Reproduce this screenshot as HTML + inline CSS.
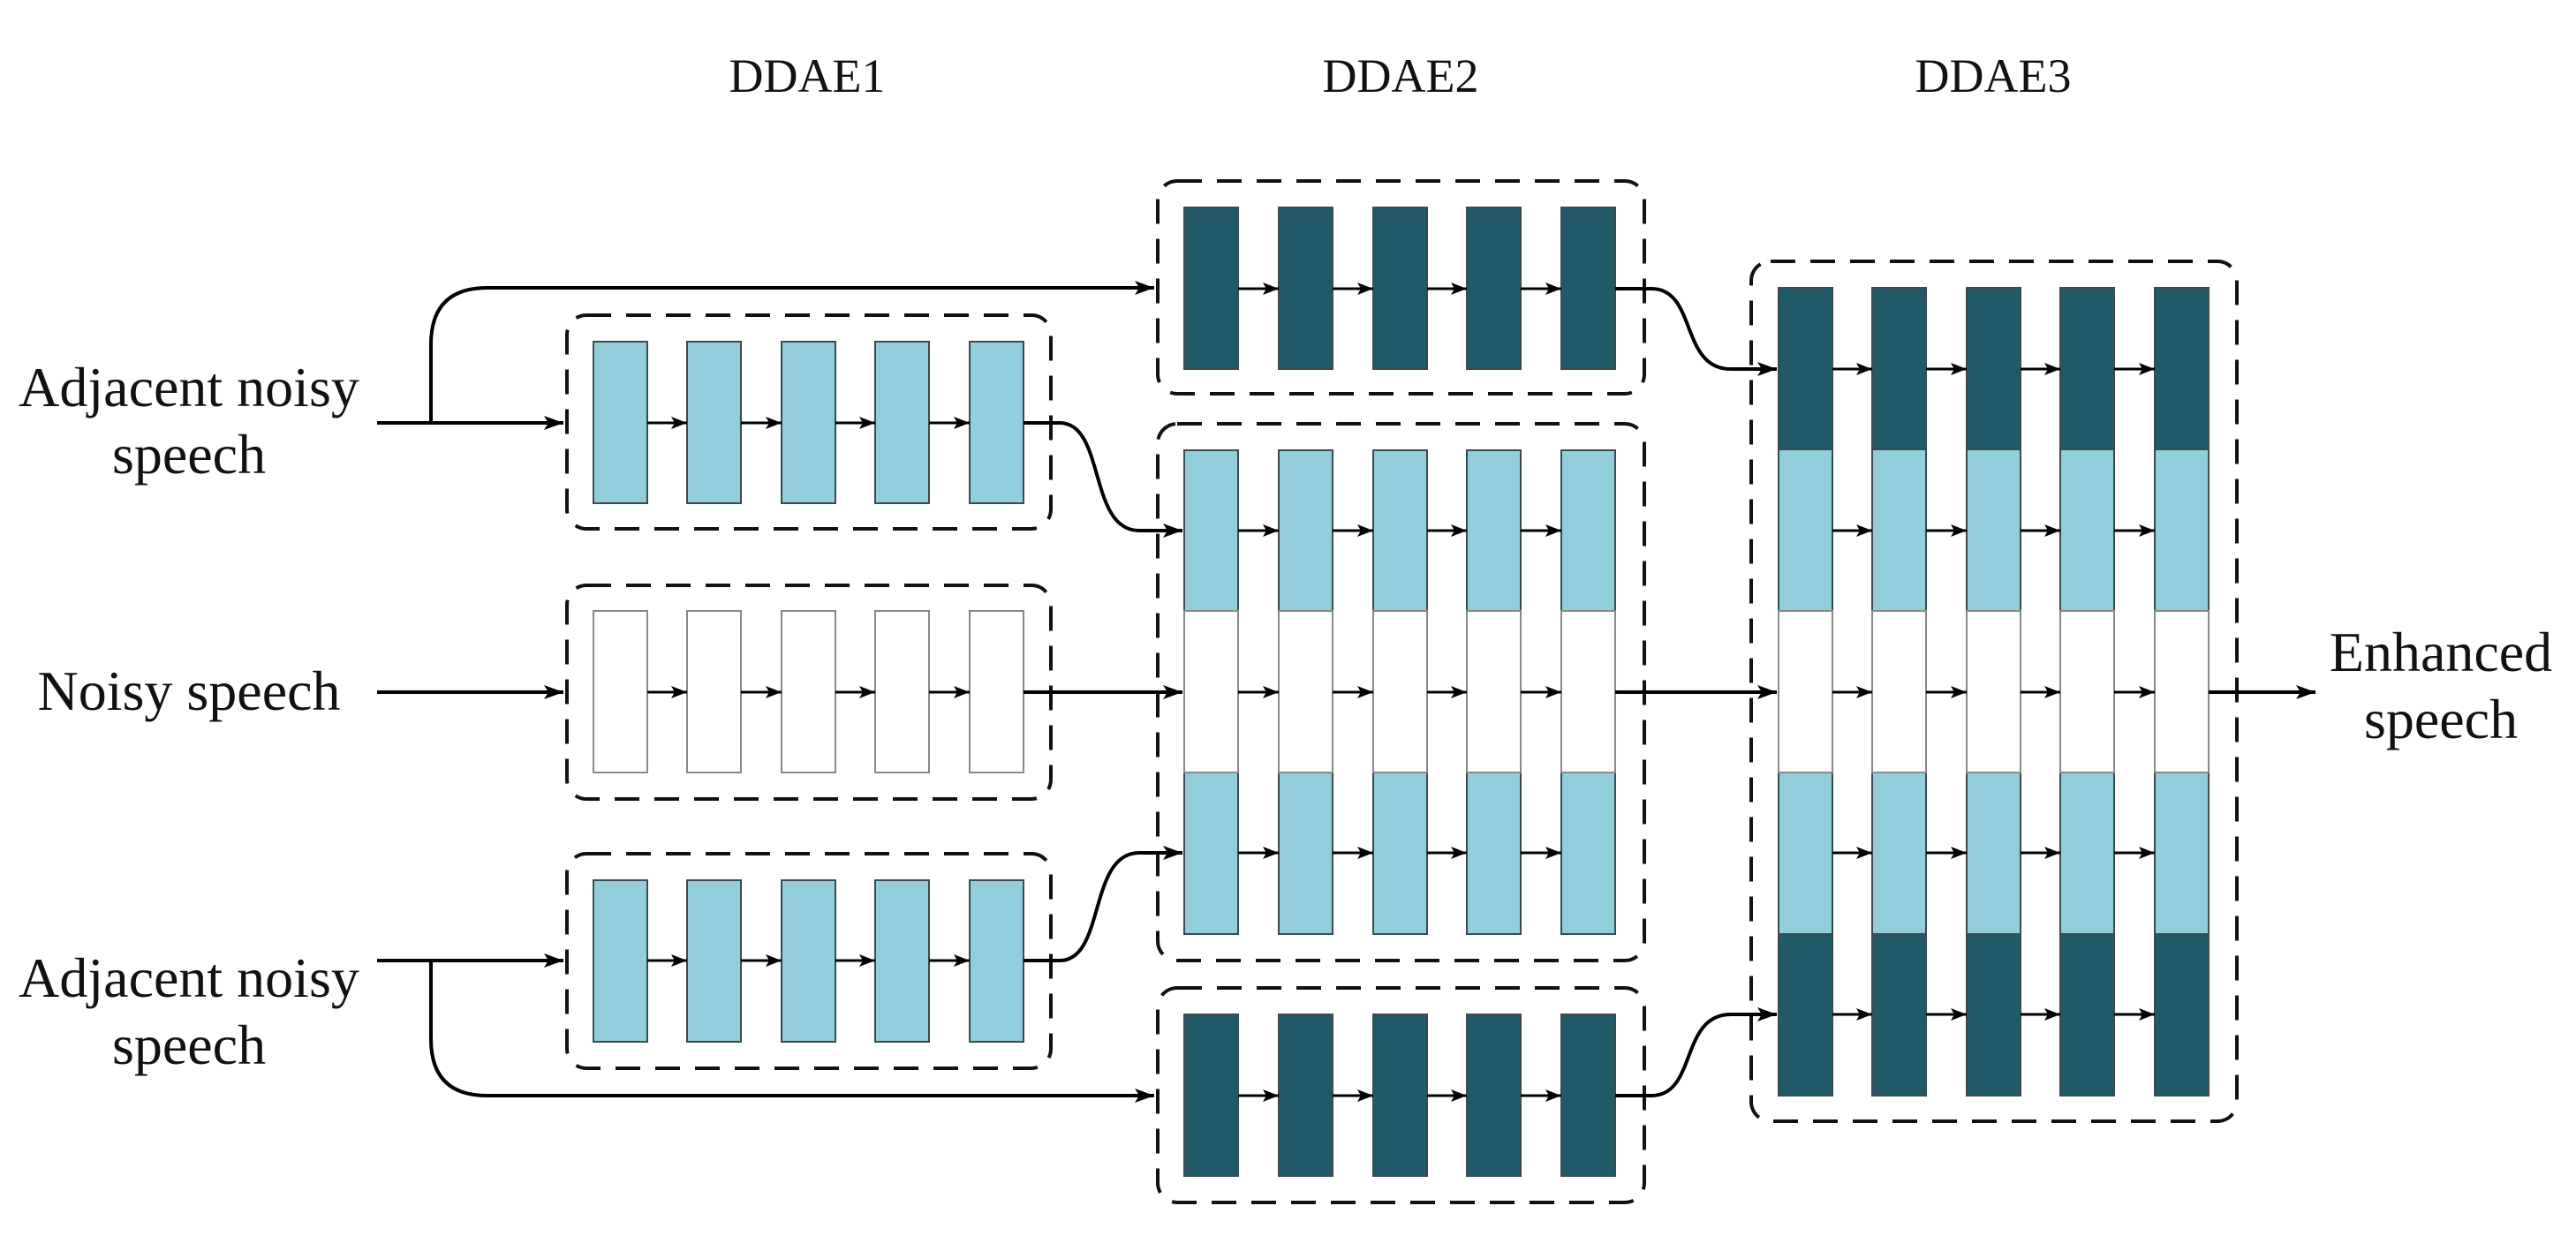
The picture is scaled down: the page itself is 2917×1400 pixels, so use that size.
<!DOCTYPE html>
<html><head><meta charset="utf-8"><style>
html,body{margin:0;padding:0;background:#fff;}
svg{display:block;}
text{font-family:"Liberation Serif",serif;fill:#111;}
</style></head><body>
<svg width="2917" height="1400" viewBox="0 0 2917 1400" xmlns="http://www.w3.org/2000/svg">
<defs>
<marker id="a" markerUnits="userSpaceOnUse" markerWidth="24" markerHeight="20" refX="22" refY="10" orient="auto"><path d="M0,2 L22,10 L0,18 L5,10 Z" fill="#000"/></marker>
<marker id="s" markerUnits="userSpaceOnUse" markerWidth="20" markerHeight="16" refX="18" refY="8" orient="auto"><path d="M0,1 L18,8 L0,15 L4,8 Z" fill="#000"/></marker>
</defs>

<!-- titles -->
<g font-size="54" text-anchor="middle">
<text x="914" y="104">DDAE1</text>
<text x="1586" y="104">DDAE2</text>
<text x="2257" y="104">DDAE3</text>
</g>

<!-- labels -->
<g font-size="64" text-anchor="middle">
<text x="214" y="460">Adjacent noisy</text>
<text x="214" y="536">speech</text>
<text x="214" y="804">Noisy speech</text>
<text x="214" y="1129">Adjacent noisy</text>
<text x="214" y="1205">speech</text>
<text x="2764" y="760">Enhanced</text>
<text x="2764" y="836">speech</text>
</g>

<!-- dashed boxes -->
<g fill="none" stroke="#111" stroke-width="4" stroke-dasharray="28 17">
<rect x="642" y="357" width="548" height="242" rx="22"/>
<rect x="642" y="663" width="548" height="242" rx="22"/>
<rect x="642" y="967" width="548" height="243" rx="22"/>
<rect x="1311" y="205" width="551" height="241" rx="22"/>
<rect x="1311" y="480" width="551" height="608" rx="22"/>
<rect x="1311" y="1119" width="551" height="243" rx="22"/>
<rect x="1983" y="296" width="550" height="974" rx="22"/>
</g>

<!-- rects -->
<g stroke="#3a4a50" stroke-width="2">
<g fill="#92CDDC">
<rect x="672" y="387" width="61" height="183"/><rect x="778" y="387" width="61" height="183"/><rect x="885" y="387" width="61" height="183"/><rect x="991" y="387" width="61" height="183"/><rect x="1098" y="387" width="61" height="183"/>
<rect x="672" y="997" width="61" height="183"/><rect x="778" y="997" width="61" height="183"/><rect x="885" y="997" width="61" height="183"/><rect x="991" y="997" width="61" height="183"/><rect x="1098" y="997" width="61" height="183"/>
</g>
<g fill="#fff" stroke="#888">
<rect x="672" y="692" width="61" height="183"/><rect x="778" y="692" width="61" height="183"/><rect x="885" y="692" width="61" height="183"/><rect x="991" y="692" width="61" height="183"/><rect x="1098" y="692" width="61" height="183"/>
</g>
<g fill="#215968">
<rect x="1341" y="235" width="61" height="183"/><rect x="1448" y="235" width="61" height="183"/><rect x="1555" y="235" width="61" height="183"/><rect x="1661" y="235" width="61" height="183"/><rect x="1768" y="235" width="61" height="183"/>
<rect x="1341" y="1149" width="61" height="183"/><rect x="1448" y="1149" width="61" height="183"/><rect x="1555" y="1149" width="61" height="183"/><rect x="1661" y="1149" width="61" height="183"/><rect x="1768" y="1149" width="61" height="183"/>
</g>
<g fill="#92CDDC">
<rect x="1341" y="510" width="61" height="182"/><rect x="1448" y="510" width="61" height="182"/><rect x="1555" y="510" width="61" height="182"/><rect x="1661" y="510" width="61" height="182"/><rect x="1768" y="510" width="61" height="182"/>
<rect x="1341" y="875" width="61" height="183"/><rect x="1448" y="875" width="61" height="183"/><rect x="1555" y="875" width="61" height="183"/><rect x="1661" y="875" width="61" height="183"/><rect x="1768" y="875" width="61" height="183"/>
</g>
<g fill="#fff" stroke="#888">
<rect x="1341" y="692" width="61" height="183"/><rect x="1448" y="692" width="61" height="183"/><rect x="1555" y="692" width="61" height="183"/><rect x="1661" y="692" width="61" height="183"/><rect x="1768" y="692" width="61" height="183"/>
</g>
<g fill="#215968">
<rect x="2014" y="326" width="61" height="183"/><rect x="2120" y="326" width="61" height="183"/><rect x="2227" y="326" width="61" height="183"/><rect x="2333" y="326" width="61" height="183"/><rect x="2440" y="326" width="61" height="183"/>
<rect x="2014" y="1058" width="61" height="183"/><rect x="2120" y="1058" width="61" height="183"/><rect x="2227" y="1058" width="61" height="183"/><rect x="2333" y="1058" width="61" height="183"/><rect x="2440" y="1058" width="61" height="183"/>
</g>
<g fill="#92CDDC">
<rect x="2014" y="509" width="61" height="183"/><rect x="2120" y="509" width="61" height="183"/><rect x="2227" y="509" width="61" height="183"/><rect x="2333" y="509" width="61" height="183"/><rect x="2440" y="509" width="61" height="183"/>
<rect x="2014" y="875" width="61" height="183"/><rect x="2120" y="875" width="61" height="183"/><rect x="2227" y="875" width="61" height="183"/><rect x="2333" y="875" width="61" height="183"/><rect x="2440" y="875" width="61" height="183"/>
</g>
<g fill="#fff" stroke="#888">
<rect x="2014" y="692" width="61" height="183"/><rect x="2120" y="692" width="61" height="183"/><rect x="2227" y="692" width="61" height="183"/><rect x="2333" y="692" width="61" height="183"/><rect x="2440" y="692" width="61" height="183"/>
</g>
</g>

<!-- inner arrows -->
<g stroke="#000" stroke-width="3" marker-end="url(#s)" fill="none">
<path d="M733 479H778"/><path d="M839 479H885"/><path d="M946 479H991"/><path d="M1052 479H1098"/>
<path d="M733 784H778"/><path d="M839 784H885"/><path d="M946 784H991"/><path d="M1052 784H1098"/>
<path d="M733 1088H778"/><path d="M839 1088H885"/><path d="M946 1088H991"/><path d="M1052 1088H1098"/>
<path d="M1402 327H1448"/><path d="M1509 327H1555"/><path d="M1616 327H1661"/><path d="M1722 327H1768"/>
<path d="M1402 601H1448"/><path d="M1509 601H1555"/><path d="M1616 601H1661"/><path d="M1722 601H1768"/>
<path d="M1402 784H1448"/><path d="M1509 784H1555"/><path d="M1616 784H1661"/><path d="M1722 784H1768"/>
<path d="M1402 966H1448"/><path d="M1509 966H1555"/><path d="M1616 966H1661"/><path d="M1722 966H1768"/>
<path d="M1402 1241H1448"/><path d="M1509 1241H1555"/><path d="M1616 1241H1661"/><path d="M1722 1241H1768"/>
<path d="M2075 418H2120"/><path d="M2181 418H2227"/><path d="M2288 418H2333"/><path d="M2394 418H2440"/>
<path d="M2075 601H2120"/><path d="M2181 601H2227"/><path d="M2288 601H2333"/><path d="M2394 601H2440"/>
<path d="M2075 784H2120"/><path d="M2181 784H2227"/><path d="M2288 784H2333"/><path d="M2394 784H2440"/>
<path d="M2075 966H2120"/><path d="M2181 966H2227"/><path d="M2288 966H2333"/><path d="M2394 966H2440"/>
<path d="M2075 1149H2120"/><path d="M2181 1149H2227"/><path d="M2288 1149H2333"/><path d="M2394 1149H2440"/>
</g>

<!-- main connectors -->
<g stroke="#000" stroke-width="4" fill="none">
<path d="M427 479H638" marker-end="url(#a)"/>
<path d="M427 784H638" marker-end="url(#a)"/>
<path d="M427 1088H638" marker-end="url(#a)"/>
<path d="M488 479V390Q488 326 552 326H1307" marker-end="url(#a)"/>
<path d="M488 1088V1177Q488 1241 552 1241H1307" marker-end="url(#a)"/>
<path d="M1159 479H1200C1252 479 1232 601 1290 601H1339" marker-end="url(#a)"/>
<path d="M1159 784H1339" marker-end="url(#a)"/>
<path d="M1159 1088H1200C1252 1088 1232 966 1290 966H1339" marker-end="url(#a)"/>
<path d="M1829 327H1870C1922 327 1902 418 1960 418H2012" marker-end="url(#a)"/>
<path d="M1829 784H2012" marker-end="url(#a)"/>
<path d="M1829 1241H1870C1922 1241 1902 1149 1960 1149H2012" marker-end="url(#a)"/>
<path d="M2501 784H2622" marker-end="url(#a)"/>
</g>
</svg>
</body></html>
